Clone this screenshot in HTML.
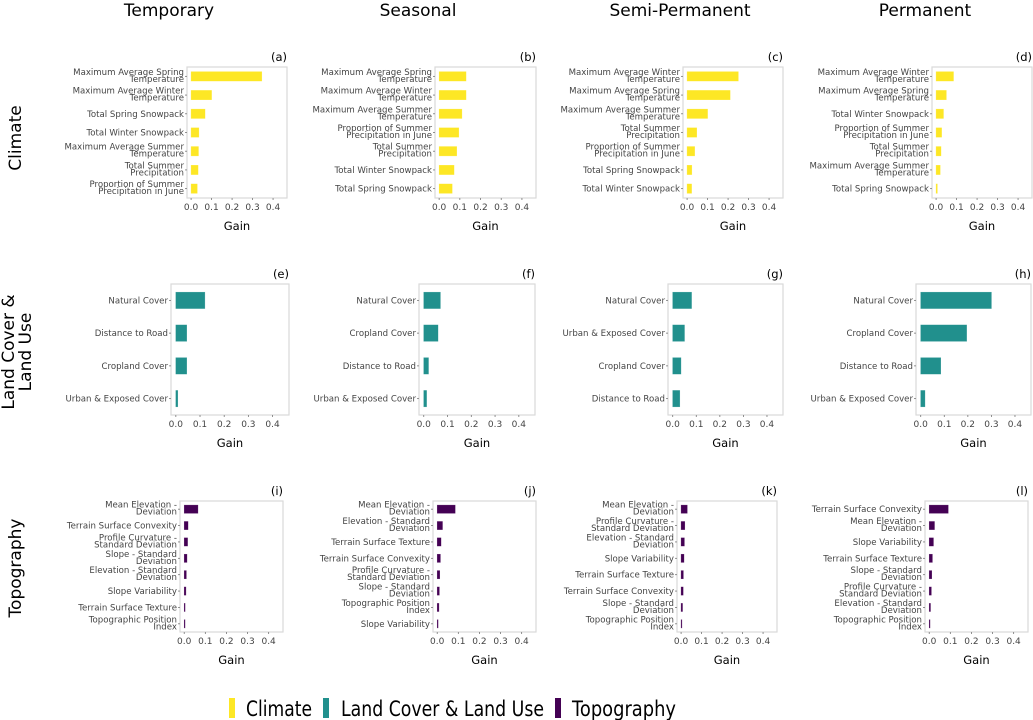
<!DOCTYPE html>
<html><head><meta charset="utf-8">
<style>
html,body{margin:0;padding:0;background:#fff;}
svg{display:block;font-family:"DejaVu Sans","Liberation Sans",sans-serif;}
</style></head>
<body>
<svg id="fig" width="1033" height="720" viewBox="0 0 1033 720" xmlns="http://www.w3.org/2000/svg">
<g id="titles">
<text x="169" y="16" font-size="17" text-anchor="middle">Temporary</text>
<text x="418" y="16" font-size="17" text-anchor="middle">Seasonal</text>
<text x="680" y="16" font-size="17" text-anchor="middle">Semi-Permanent</text>
<text x="925" y="16" font-size="17" text-anchor="middle">Permanent</text>
<text transform="translate(21,138) rotate(-90)" font-size="17" text-anchor="middle">Climate</text>
<text transform="translate(14,352) rotate(-90)" font-size="17" text-anchor="middle">Land Cover &amp;</text>
<text transform="translate(31,352) rotate(-90)" font-size="17" text-anchor="middle">Land Use</text>
<text transform="translate(21,568) rotate(-90)" font-size="17" text-anchor="middle">Topography</text>
</g>
<g id="legend">
<rect x="229" y="698" width="6" height="20" fill="#fde725"/>
<text x="246" y="716" font-size="21" textLength="66" lengthAdjust="spacingAndGlyphs">Climate</text>
<rect x="323" y="698" width="6" height="20" fill="#21908d"/>
<text x="341" y="716" font-size="21" textLength="203" lengthAdjust="spacingAndGlyphs">Land Cover &amp; Land Use</text>
<rect x="555" y="698" width="6" height="20" fill="#440154"/>
<text x="572" y="716" font-size="21" textLength="104" lengthAdjust="spacingAndGlyphs">Topography</text>
</g>
<g id="panels"></g>
</svg>
<script>
const tickValues = [0.0, 0.1, 0.2, 0.3, 0.4];
const tickLabels = ["0.0", "0.1", "0.2", "0.3", "0.4"];
const panelLetters = ["(a)","(b)","(c)","(d)","(e)","(f)","(g)","(h)","(i)","(j)","(k)","(l)"];
const catsA = ["Maximum Average Spring|Temperature","Maximum Average Winter|Temperature","Total Spring Snowpack","Total Winter Snowpack","Maximum Average Summer|Temperature","Total Summer|Precipitation","Proportion of Summer|Precipitation in June"];
const valsA = [0.345, 0.10, 0.068, 0.038, 0.036, 0.034, 0.03];
const catsB = ["Maximum Average Spring|Temperature","Maximum Average Winter|Temperature","Maximum Average Summer|Temperature","Proportion of Summer|Precipitation in June","Total Summer|Precipitation","Total Winter Snowpack","Total Spring Snowpack"];
const valsB = [0.13, 0.13, 0.11, 0.095, 0.085, 0.072, 0.063];
const catsC = ["Maximum Average Winter|Temperature","Maximum Average Spring|Temperature","Maximum Average Summer|Temperature","Total Summer|Precipitation","Proportion of Summer|Precipitation in June","Total Spring Snowpack","Total Winter Snowpack"];
const valsC = [0.25, 0.21, 0.10, 0.047, 0.037, 0.023, 0.022];
const catsD = ["Maximum Average Winter|Temperature","Maximum Average Spring|Temperature","Total Winter Snowpack","Proportion of Summer|Precipitation in June","Total Summer|Precipitation","Maximum Average Summer|Temperature","Total Spring Snowpack"];
const valsD = [0.085, 0.05, 0.036, 0.027, 0.024, 0.02, 0.006];
const catsE = ["Natural Cover","Distance to Road","Cropland Cover","Urban & Exposed Cover"];
const valsE = [0.12, 0.045, 0.045, 0.008];
const catsF = ["Natural Cover","Cropland Cover","Distance to Road","Urban & Exposed Cover"];
const valsF = [0.07, 0.06, 0.02, 0.012];
const catsG = ["Natural Cover","Urban & Exposed Cover","Cropland Cover","Distance to Road"];
const valsG = [0.08, 0.05, 0.035, 0.03];
const catsH = ["Natural Cover","Cropland Cover","Distance to Road","Urban & Exposed Cover"];
const valsH = [0.30, 0.195, 0.085, 0.018];
const catsI = ["Mean Elevation -|Deviation","Terrain Surface Convexity","Profile Curvature -|Standard Deviation","Slope - Standard|Deviation","Elevation - Standard|Deviation","Slope Variability","Terrain Surface Texture","Topographic Position|Index"];
const valsI = [0.065, 0.018, 0.016, 0.013, 0.01, 0.008, 0.004, 0.002];
const catsJ = ["Mean Elevation -|Deviation","Elevation - Standard|Deviation","Terrain Surface Texture","Terrain Surface Convexity","Profile Curvature -|Standard Deviation","Slope - Standard|Deviation","Topographic Position|Index","Slope Variability"];
const valsJ = [0.085, 0.025, 0.018, 0.015, 0.012, 0.01, 0.008, 0.004];
const catsK = ["Mean Elevation -|Deviation","Profile Curvature -|Standard Deviation","Elevation - Standard|Deviation","Slope Variability","Terrain Surface Texture","Terrain Surface Convexity","Slope - Standard|Deviation","Topographic Position|Index"];
const valsK = [0.03, 0.018, 0.016, 0.014, 0.011, 0.01, 0.007, 0.003];
const catsL = ["Terrain Surface Convexity","Mean Elevation -|Deviation","Slope Variability","Terrain Surface Texture","Slope - Standard|Deviation","Profile Curvature -|Standard Deviation","Elevation - Standard|Deviation","Topographic Position|Index"];
const valsL = [0.09, 0.025, 0.02, 0.015, 0.012, 0.01, 0.006, 0.003];

const NS = "http://www.w3.org/2000/svg";
const root = document.getElementById("panels");
const colors = ["#fde725", "#21908d", "#440154"];
const rowsY = [[67,198],[284,415],[501,632]];
const boxesX = [[187,287],[435,536],[683,783],[932,1032],[171,289],[419,535],[668,783],[916,1031],[180,283],[433,536],[677,777],[925,1028]];
const allCats = [catsA,catsB,catsC,catsD,catsE,catsF,catsG,catsH,catsI,catsJ,catsK,catsL];
const allVals = [valsA,valsB,valsC,valsD,valsE,valsF,valsG,valsH,valsI,valsJ,valsK,valsL];
const barFrac = [0.5, 0.5, 0.5];

function mk(tag, attrs, parent) {
  const e = document.createElementNS(NS, tag);
  for (const k in attrs) e.setAttribute(k, attrs[k]);
  parent.appendChild(e);
  return e;
}

for (let p = 0; p < 12; p++) {
  const row = Math.floor(p / 4);
  const [x0, x1] = boxesX[p];
  const [y0, y1] = rowsY[row];
  const cats = allCats[p], vals = allVals[p];
  const lo = -0.02, hi = 0.468;
  const xs = v => x0 + (v - lo) / (hi - lo) * (x1 - x0);
  const n = cats.length;
  const step = (y1 - y0) / n;
  const ys = i => y0 + step * (i + 0.5);
  const g = mk("g", {}, root);
  
  
  const box = mk("rect", {x: x0, y: y0, width: x1 - x0, height: y1 - y0, fill: "#fff", stroke: "#d9d9d9", "stroke-width": 1.2}, g);
  
  
  const lt = mk("text", {x: x1, y: y0 - 6, "font-size": 11.5, "text-anchor": "end", fill: "#000"}, g);
  lt.textContent = panelLetters[p];
  
  
  for (let i = 0; i < n; i++) {
    const v = vals[i];
    const h = step * barFrac[row];
    const b = mk("rect", {x: xs(0), y: ys(i) - h / 2, width: Math.max(xs(v) - xs(0), 0.8), height: h, fill: colors[row], stroke: colors[row], "stroke-opacity": 0.6, "stroke-width": 0.5}, g);
    
    
    mk("line", {x1: x0 - 2, x2: x0, y1: ys(i), y2: ys(i), stroke: "#777", "stroke-width": 0.8}, g);
    const lines = cats[i].split("|");
    const t = mk("text", {x: x0 - 3, "font-size": 8.6, "text-anchor": "end", fill: "#444"}, g);
    
    
    if (lines.length === 1) {
      t.setAttribute("y", ys(i) + 3);
      t.textContent = lines[0];
    } else {
      lines.forEach((ln, k) => {
        const s = mk("tspan", {x: x0 - 3, y: ys(i) - 1.5 + k * 7}, t);
        s.textContent = ln;
      });
    }
  }
  tickValues.forEach((tv, k) => {
    mk("line", {x1: xs(tv), x2: xs(tv), y1: y1, y2: y1 + 2, stroke: "#777", "stroke-width": 0.8}, g);
    const t = mk("text", {x: xs(tv), y: y1 + 12, "font-size": 9, "text-anchor": "middle", fill: "#444"}, g);
    t.textContent = tickLabels[k];
    
    
  });
  const gt = mk("text", {x: (x0 + x1) / 2, y: y1 + 32, "font-size": 11.5, "text-anchor": "middle", fill: "#000"}, g);
  gt.textContent = "Gain";
  
  
}
</script>
</body></html>
